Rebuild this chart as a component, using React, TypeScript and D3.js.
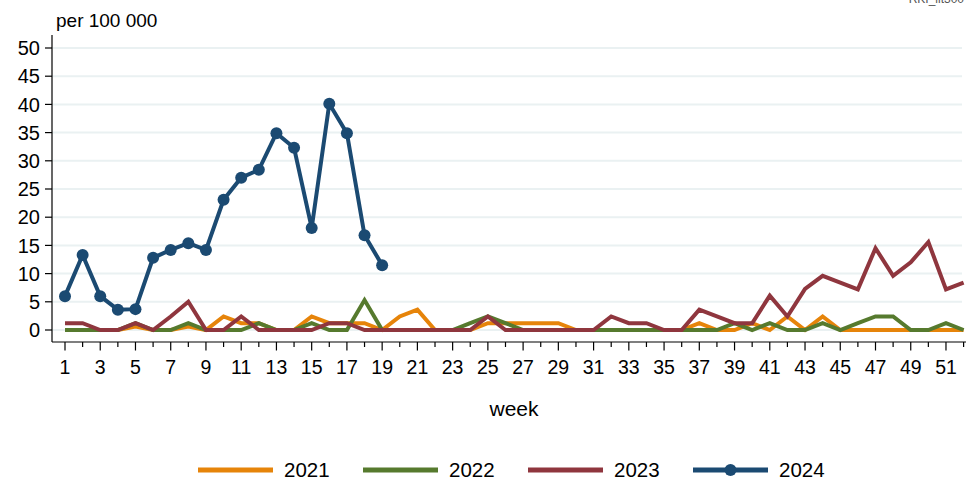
import * as d3 from "d3";
import React from "react";

const width = 966;
const height = 482;

const weeks = d3.range(1, 53);
const yTicks = [0, 5, 10, 15, 20, 25, 30, 35, 40, 45, 50];

const y2021 = [0, 0, 0, 0, 0.6, 0, 0, 0.6, 0, 2.4, 1.2, 1.2, 0, 0, 2.4, 1.2, 1.2, 1.2, 0, 2.4, 3.6, 0, 0, 0, 1.2, 1.2, 1.2, 1.2, 1.2, 0, 0, 0, 0, 0, 0, 0, 1.2, 0, 0, 1.2, 0, 2.4, 0, 2.4, 0, 0, 0, 0, 0, 0, 0, 0];
const y2022 = [0, 0, 0, 0, 1.2, 0, 0, 1.2, 0, 0, 0, 1.2, 0, 0, 1.2, 0, 0, 5.3, 0, 0, 0, 0, 0, 1.2, 2.4, 1.2, 0, 0, 0, 0, 0, 0, 0, 0, 0, 0, 0, 0, 1.2, 0, 1.2, 0, 0, 1.2, 0, 1.2, 2.4, 2.4, 0, 0, 1.2, 0];
const y2023 = [1.2, 1.2, 0, 0, 1.2, 0, 2.4, 5.0, 0, 0, 2.4, 0, 0, 0, 0, 1.2, 1.2, 0, 0, 0, 0, 0, 0, 0, 2.4, 0, 0, 0, 0, 0, 0, 2.4, 1.2, 1.2, 0, 0, 3.6, 2.4, 1.2, 1.2, 6.1, 2.4, 7.3, 9.6, 8.4, 7.2, 14.5, 9.6, 12.0, 15.6, 7.2, 8.4];
const y2024 = [6.0, 13.3, 6.0, 3.6, 3.7, 12.8, 14.2, 15.4, 14.2, 23.1, 27.0, 28.4, 34.9, 32.3, 18.1, 40.1, 34.9, 16.8, 11.5];

const seriesNames = ["2021", "2022", "2023", "2024"];
const seriesColors = ["#E6840A", "#567A2E", "#8F363E", "#1B4A72"];
const seriesValues = [y2021, y2022, y2023, y2024];

const font = "'Liberation Sans', Arial, sans-serif";

export default function App() {
  const x = d3.scaleLinear().domain([1, 52]).range([65, 963.6]);
  const y = d3.scaleLinear().domain([0, 50]).range([330, 48]);
  const axisX = 52;
  const axisY = 342;

  const line = d3
    .line<number>()
    .x((_, i) => x(weeks[i]))
    .y((d) => y(d));

  return (
    <svg
      width={width}
      height={height}
      style={{ position: "absolute", left: 0, top: 0, fontFamily: font }}
    >
      <rect width={width} height={height} fill="white" />
      <text x={964} y={3} textAnchor="end" fontSize={12} fill="#555">
        RKI_lit300
      </text>

      {/* grid */}
      {yTicks.map((t) => (
        <line
          key={"g" + t}
          x1={axisX}
          x2={962}
          y1={y(t)}
          y2={y(t)}
          stroke="#EAF1F2"
          strokeWidth={2}
        />
      ))}

      {/* y axis */}
      <line x1={axisX} x2={axisX} y1={35} y2={axisY} stroke="#000" strokeWidth={1.2} />
      {yTicks.map((t) => (
        <g key={"y" + t}>
          <line x1={axisX - 7} x2={axisX} y1={y(t)} y2={y(t)} stroke="#000" strokeWidth={1.2} />
          <text x={40} y={y(t)} dy="0.36em" textAnchor="end" fontSize={20} fill="#000">
            {t}
          </text>
        </g>
      ))}
      <text x={56} y={27} fontSize={19} fill="#000">
        per 100 000
      </text>

      {/* x axis */}
      <line x1={axisX} x2={width} y1={axisY} y2={axisY} stroke="#000" strokeWidth={1.2} />
      {weeks.map((w) => (
        <g key={"x" + w}>
          <line
            x1={x(w)}
            x2={x(w)}
            y1={axisY}
            y2={axisY + (w % 2 === 1 ? 8.5 : 5)}
            stroke="#000"
            strokeWidth={1.2}
          />
          {w % 2 === 1 && (
            <text x={x(w)} y={374} textAnchor="middle" fontSize={19.5} fill="#000">
              {w}
            </text>
          )}
        </g>
      ))}
      <text x={514} y={416} textAnchor="middle" fontSize={21} fill="#000">
        week
      </text>

      {/* lines */}
      {seriesValues.map((vals, i) => (
        <path
          key={seriesNames[i]}
          d={line(vals) ?? ""}
          fill="none"
          stroke={seriesColors[i]}
          strokeWidth={4}
          strokeLinejoin="miter"
        />
      ))}
      {y2024.map((v, i) => (
        <circle key={"p" + i} cx={x(weeks[i])} cy={y(v)} r={6} fill={seriesColors[3]} />
      ))}

      {/* legend */}
      {seriesNames.map((name, i) => {
        const lx = 198 + i * 165;
        return (
          <g key={"l" + name}>
            <line x1={lx} x2={lx + 75} y1={470} y2={470} stroke={seriesColors[i]} strokeWidth={5} />
            {i === 3 && <circle cx={lx + 37.5} cy={470} r={6} fill={seriesColors[i]} />}
            <text x={lx + 86} y={477} fontSize={20.5} fill="#000">
              {name}
            </text>
          </g>
        );
      })}
    </svg>
  );
}
